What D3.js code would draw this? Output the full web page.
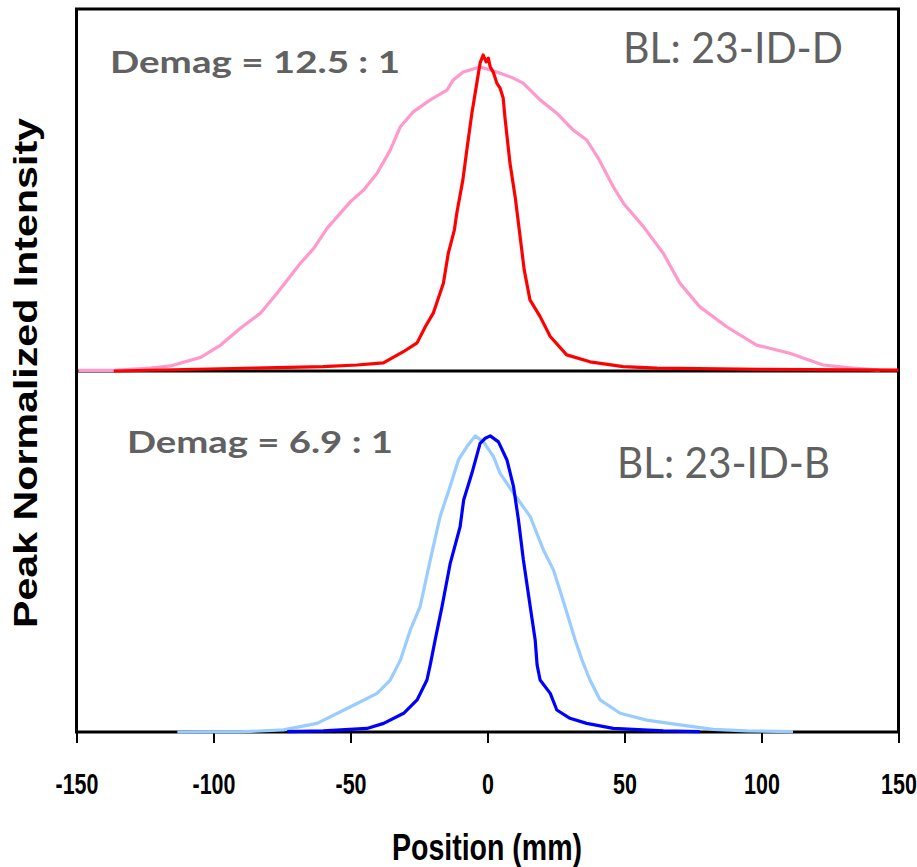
<!DOCTYPE html>
<html><head><meta charset="utf-8">
<script src="https://cdn.jsdelivr.net/npm/d3@7"></script>
<style>body{margin:0;background:#fff}svg{display:block}</style>
</head><body>
<svg id="c" width="917" height="867"></svg>
<script>
// x ticks
const xTicks = [-150, -100, -50, 0, 50, 100, 150];
// Top panel (BL 23-ID-D): position (mm), peak-normalized intensity
const redX = [-136.4,-60.0,-47.6,-38.0,-30.7,-25.7,-22.7,-19.8,-16.1,-14.3,-12.1,-11.2,-9.0,-7.4,-5.7,-3.9,-2.7,-1.6,-0.5,0.3,1.0,2.1,3.4,4.6,5.7,6.4,8.2,10.1,11.6,13.4,15.5,19.2,22.9,28.9,37.4,49.5,61.8,99.4,150];
const redY = [0,0.014,0.019,0.026,0.061,0.089,0.140,0.183,0.278,0.373,0.446,0.500,0.604,0.709,0.816,0.911,0.975,1.0,0.978,0.99,0.962,0.946,0.911,0.895,0.865,0.800,0.658,0.551,0.446,0.320,0.225,0.172,0.109,0.051,0.029,0.014,0.009,0.005,0.003];
const pinkX = [-149.3,-136.4,-123.0,-115.7,-104.7,-97.4,-90.2,-82.9,-76.8,-68.3,-63.4,-58.5,-50.0,-45.2,-40.3,-35.5,-31.8,-27.1,-20.9,-14.8,-12.5,-8.9,-2.7,3.4,9.4,13.0,19.2,25.3,31.2,36.2,40.4,45.9,49.6,56.9,64.2,70.2,77.5,87.3,98.2,110.3,122.5,133.3,143.1];
const pinkY = [0.002,0.002,0.009,0.016,0.043,0.082,0.135,0.183,0.246,0.341,0.388,0.452,0.536,0.573,0.626,0.699,0.773,0.820,0.858,0.889,0.921,0.946,0.962,0.946,0.927,0.911,0.858,0.816,0.763,0.731,0.674,0.583,0.531,0.457,0.372,0.278,0.203,0.140,0.082,0.056,0.019,0.009,0.003];
// Bottom panel (BL 23-ID-B)
const lblueX = [-113.2,-89.1,-74.5,-62.2,-50.0,-40.3,-35.5,-31.8,-28.2,-24.6,-20.9,-17.3,-13.7,-10.6,-7.5,-4.5,-1.5,2.2,4.6,9.5,15.6,20.4,24.1,28.3,32.0,34.5,37.4,41.1,48.4,58.1,70.2,82.4,94.6,111.5];
const lblueY = [0,0.001,0.007,0.029,0.085,0.130,0.175,0.242,0.343,0.422,0.579,0.725,0.826,0.916,0.961,0.997,0.977,0.927,0.871,0.804,0.725,0.613,0.545,0.422,0.310,0.242,0.175,0.108,0.063,0.040,0.024,0.009,0.004,0.001];
const blueX = [-73.1,-59.9,-44.0,-37.9,-30.6,-25.7,-22.1,-20.9,-19.1,-16.6,-13.6,-10.0,-8.7,-5.7,-2.7,-0.8,1.0,4.0,7.1,9.5,11.3,13.1,15.6,17.4,18.1,19.2,22.9,25.3,30.1,36.2,45.9,64.2,77.5];
const blueY = [0.001,0.004,0.012,0.029,0.063,0.108,0.175,0.226,0.310,0.422,0.568,0.691,0.781,0.871,0.972,0.989,0.997,0.977,0.916,0.826,0.714,0.579,0.422,0.310,0.226,0.175,0.130,0.074,0.046,0.029,0.012,0.004,0.001];

const svg = d3.select("#c");
const x = d3.scaleLinear().domain([-150,150]).range([76.5,898.5]);
const yTop = d3.scaleLinear().domain([0,1]).range([371,55]);
const yBot = d3.scaleLinear().domain([0,1]).range([732,435]);

// frame
svg.append("rect").attr("x",x(-150)).attr("y",9).attr("width",x(150)-x(-150)).attr("height",yBot(0)-9)
  .attr("fill","none").attr("stroke","#000").attr("stroke-width",3);
svg.append("line").attr("x1",x(-150)).attr("x2",x(150)).attr("y1",yTop(0)).attr("y2",yTop(0))
  .attr("stroke","#000").attr("stroke-width",3);

// x axis
const xAxis = d3.axisBottom(x).tickValues(xTicks).tickSize(11).tickPadding(30).tickFormat(d => String(d));
const gx = svg.append("g").attr("transform",`translate(0,${yBot(0)})`).call(xAxis);
gx.select(".domain").remove();
gx.selectAll(".tick line").attr("stroke","#000").attr("stroke-width",2);
gx.selectAll(".tick text").attr("fill","#000")
  .style("font-family","'Liberation Sans',Arial,sans-serif")
  .style("font-weight","bold").style("font-size","29px")
  .attr("transform","scale(0.74,1)");

function drawLine(xs, ys, yScale, color, w){
  const pts = xs.map((v,i)=>[v, ys[i]]);
  svg.append("path").datum(pts)
    .attr("d", d3.line().x(d=>x(d[0])).y(d=>yScale(d[1])))
    .attr("fill","none").attr("stroke",color).attr("stroke-width",w).attr("stroke-linejoin","round");
}
drawLine(pinkX, pinkY, yTop, "#FF99CC", 3.2);
drawLine(redX, redY, yTop, "#FF0000", 3.2);
drawLine(lblueX, lblueY, yBot, "#99CCFF", 3.2);
drawLine(blueX, blueY, yBot, "#0000FF", 3.2);

// annotations
const ann = [
  {t:"Demag = 12.5 : 1", x:110, y:73, s:31, w:"bold", L:290},
  {t:"BL: 23-ID-D", x:623, y:63, s:43, w:"normal", L:220},
  {t:"Demag = 6.9 : 1", x:127, y:453, s:31, w:"bold", L:266},
  {t:"BL: 23-ID-B", x:617, y:478, s:43, w:"normal", L:213}
];
ann.forEach(a=>{
  svg.append("text").attr("x",a.x).attr("y",a.y).text(a.t)
    .attr("fill","#616161").style("font-family","Lato,'Open Sans',sans-serif")
    .style("font-weight",a.w).style("font-size",a.s+"px")
    .attr("textLength",a.L).attr("lengthAdjust","spacingAndGlyphs");
});

// axis titles
svg.append("text").attr("x",487).attr("y",860).attr("text-anchor","middle").text("Position (mm)")
  .style("font-family","'Liberation Sans',Arial,sans-serif")
  .style("font-weight","bold").style("font-size","37px")
  .attr("textLength",190).attr("lengthAdjust","spacingAndGlyphs");
svg.append("text").attr("transform","translate(37,373) rotate(-90)").attr("text-anchor","middle")
  .text("Peak Normalized Intensity")
  .style("font-family","'Liberation Sans',Arial,sans-serif").style("font-weight","bold").style("font-size","33px")
  .attr("textLength",510).attr("lengthAdjust","spacingAndGlyphs");
</script>
</body></html>
